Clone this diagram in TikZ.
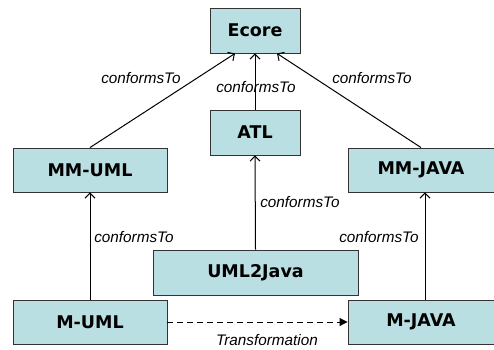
\documentclass[tikz,border=0pt]{standalone}
\usepackage{fontspec}
\usepackage{xcolor}
\usetikzlibrary{arrows.meta}
\newfontfamily\boxfont{DejaVu Sans}
\newfontfamily\lblfont{Liberation Sans}
\definecolor{boxfill}{HTML}{BADFE2}
\definecolor{boxline}{HTML}{333333}

\tikzset{
    model/.style={draw=boxline, fill=boxfill, line width=0.9pt, inner sep=0pt,
        font=\boxfont\bfseries\fontsize{17.5}{20}\selectfont},
    lbl/.style={font=\lblfont\itshape\fontsize{15.3}{17}\selectfont, inner sep=0pt},
    conf/.style={-{Straight Barb[length=5pt,width=10pt]}, line width=1pt},
    trans/.style={-{Triangle[length=8pt,width=8pt]}, dashed, line width=1pt,
        dash pattern=on 6pt off 4pt}
}

\begin{document}
\begin{tikzpicture}[x=1pt,y=1pt]
    \useasboundingbox (0,0) rectangle (494,349);

    \node[model, minimum width=90pt, minimum height=45pt] (ecore) at (255,318.5) {Ecore};
    \node[model, minimum width=90pt, minimum height=45pt] (atl) at (255,216.5) {ATL};
    \node[model, minimum width=154pt, minimum height=44pt] (mmuml) at (90,179) {MM-UML};
    \node[model, minimum width=146pt, minimum height=44pt] (mmjava) at (421,179) {MM-JAVA};
    \node[model, minimum width=205pt, minimum height=45pt] (uml2java) at (255.5,76.5) {UML2Java};
    \node[model, minimum width=154pt, minimum height=44pt] (muml) at (90,27) {M-UML};
    \node[model, minimum width=146pt, minimum height=44pt] (mjava) at (421,27) {M-JAVA};

    % conformsTo links
    \draw[conf] (mmuml.north) -- ([xshift=-20pt]ecore.south);
    \draw[conf] (atl.north) -- (ecore.south);
    \draw[conf] (mmjava.north) -- ([xshift=22pt]ecore.south);
    \draw[conf] (uml2java.north) -- (atl.south);
    \draw[conf] (muml.north) -- (mmuml.south);
    \draw[conf] ([xshift=4pt]mjava.north) -- ([xshift=4pt]mmjava.south);

    \node[lbl] (lblmm1) at (141,271) {conformsTo};
    \node[lbl] (lblatl) at (256,262) {conformsTo};
    \node[lbl] (lblmm2) at (372,271) {conformsTo};
    \node[lbl] (lbltr) at (300,147) {conformsTo};
    \node[lbl] (lblm1) at (134,112) {conformsTo};
    \node[lbl] (lblm2) at (379,112) {conformsTo};

    % transformation
    \draw[trans] (muml.east) -- (mjava.west);
    \node[lbl] (lbltrans) at (267,8.5) {Transformation};
\end{tikzpicture}
\end{document}
